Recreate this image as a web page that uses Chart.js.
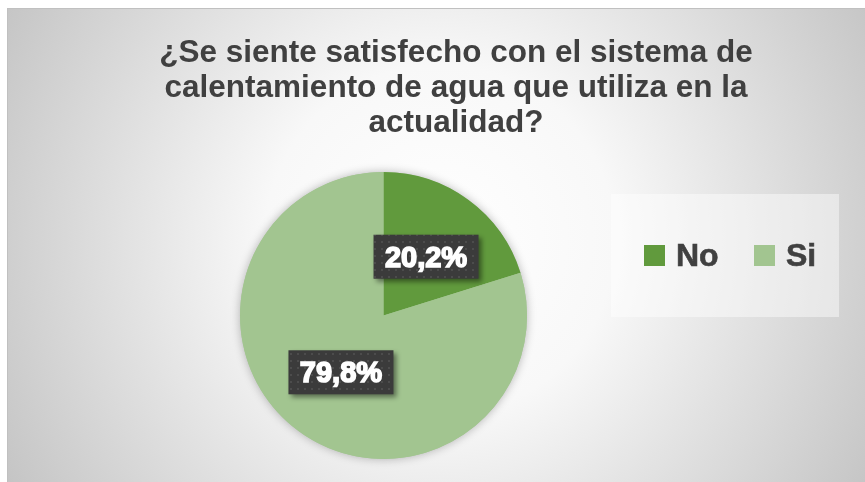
<!DOCTYPE html>
<html>
<head>
<meta charset="utf-8">
<script src="https://cdn.jsdelivr.net/npm/chart.js@4"></script>
<style>
  html, body { margin: 0; padding: 0; background: #fff; }
  canvas { display: block; }
</style>
</head>
<body>
<canvas id="satisfaccionChart" width="865" height="482"></canvas>
<script>
const labels = ['No', 'Si'];
const values = [20.2, 79.8];
const sliceColors = ['#619A3D', '#A2C590'];
const titleLines = [
  '¿Se siente satisfecho con el sistema de',
  'calentamiento de agua que utiliza en la',
  'actualidad?'
];

const FONT = '"Liberation Sans", Arial, sans-serif';
const TEXT_COLOR = '#404040';

function makeDotPattern(ctx) {
  const tile = document.createElement('canvas');
  tile.width = 7;
  tile.height = 7;
  const t = tile.getContext('2d');
  t.fillStyle = '#3b3b3b';
  t.fillRect(0, 0, 7, 7);
  t.fillStyle = '#4c4c4c';
  t.fillRect(3, 3, 2, 2);
  return ctx.createPattern(tile, 'repeat');
}

const panelPlugin = {
  id: 'panel',
  beforeDraw(chart) {
    const ctx = chart.ctx;
    const w = chart.width, h = chart.height;
    ctx.save();
    ctx.fillStyle = '#ffffff';
    ctx.fillRect(0, 0, w, h);

    const g = ctx.createRadialGradient(440, 240, 0, 440, 240, 500);
    g.addColorStop(0, '#ffffff');
    g.addColorStop(0.35, '#f8f8f8');
    g.addColorStop(1, '#c4c4c4');
    ctx.fillStyle = g;
    ctx.fillRect(7, 8, w - 7, h - 8);
    ctx.strokeStyle = '#c0c0c0';
    ctx.lineWidth = 1;
    ctx.strokeRect(7.5, 8.5, w, h);

    // title
    ctx.fillStyle = TEXT_COLOR;
    ctx.font = 'bold 31.5px ' + FONT;
    ctx.textAlign = 'center';
    ctx.textBaseline = 'alphabetic';
    titleLines.forEach((line, i) => {
      ctx.fillText(line, 456, 62 + i * 35);
    });

    // legend
    ctx.fillStyle = 'rgba(255,255,255,0.45)';
    ctx.fillRect(611, 194, 228, 123);
    const items = [{ x: 644 }, { x: 754 }];
    ctx.font = 'bold 32px ' + FONT;
    ctx.textAlign = 'left';
    labels.forEach((lab, i) => {
      ctx.fillStyle = chart.data.datasets[0].backgroundColor[i];
      ctx.fillRect(items[i].x, 245, 21, 21);
      ctx.fillStyle = TEXT_COLOR;
      ctx.strokeStyle = TEXT_COLOR;
      ctx.lineWidth = 0.6;
      ctx.fillText(lab, items[i].x + 32, 266);
      ctx.strokeText(lab, items[i].x + 32, 266);
    });
    ctx.restore();
  },
  beforeDatasetsDraw(chart) {
    const ctx = chart.ctx;
    const arc = chart.getDatasetMeta(0).data[0];
    if (!arc) return;
    ctx.save();
    ctx.shadowColor = 'rgba(0,0,0,0.28)';
    ctx.shadowBlur = 10;
    ctx.fillStyle = '#a2c590';
    ctx.beginPath();
    ctx.arc(arc.x, arc.y, arc.outerRadius, 0, Math.PI * 2);
    ctx.fill();
    ctx.restore();
  },
  afterDatasetsDraw(chart) {
    const ctx = chart.ctx;
    const pattern = makeDotPattern(ctx);
    const data = chart.data.datasets[0].data;
    chart.getDatasetMeta(0).data.forEach((arc, i) => {
      const p = arc.getCenterPoint();
      const text = data[i].toFixed(1).replace('.', ',') + '%';
      const bw = 105, bh = 44;
      const x = p.x - bw / 2, y = p.y - bh / 2 - 1;
      ctx.save();
      ctx.shadowColor = 'rgba(0,0,0,0.45)';
      ctx.shadowBlur = 5;
      ctx.shadowOffsetX = 3;
      ctx.shadowOffsetY = 3;
      ctx.fillStyle = pattern;
      ctx.fillRect(x, y, bw, bh);
      ctx.restore();

      ctx.save();
      ctx.font = 'bold 29px ' + FONT;
      ctx.textAlign = 'center';
      ctx.textBaseline = 'middle';
      ctx.fillStyle = '#ffffff';
      ctx.strokeStyle = '#ffffff';
      ctx.lineWidth = 1.6;
      ctx.fillText(text, p.x, p.y + 1);
      ctx.strokeText(text, p.x, p.y + 1);
      ctx.restore();
    });
  }
};

new Chart(document.getElementById('satisfaccionChart'), {
  type: 'pie',
  data: {
    labels: labels,
    datasets: [{
      data: values,
      backgroundColor: sliceColors,
      borderWidth: 0
    }]
  },
  options: {
    responsive: false,
    animation: false,
    layout: {
      padding: { left: 240, right: 338, top: 172, bottom: 23 }
    },
    plugins: {
      legend: { display: false },
      title: { display: false },
      tooltip: { enabled: false }
    }
  },
  plugins: [panelPlugin]
});
</script>
</body>
</html>
